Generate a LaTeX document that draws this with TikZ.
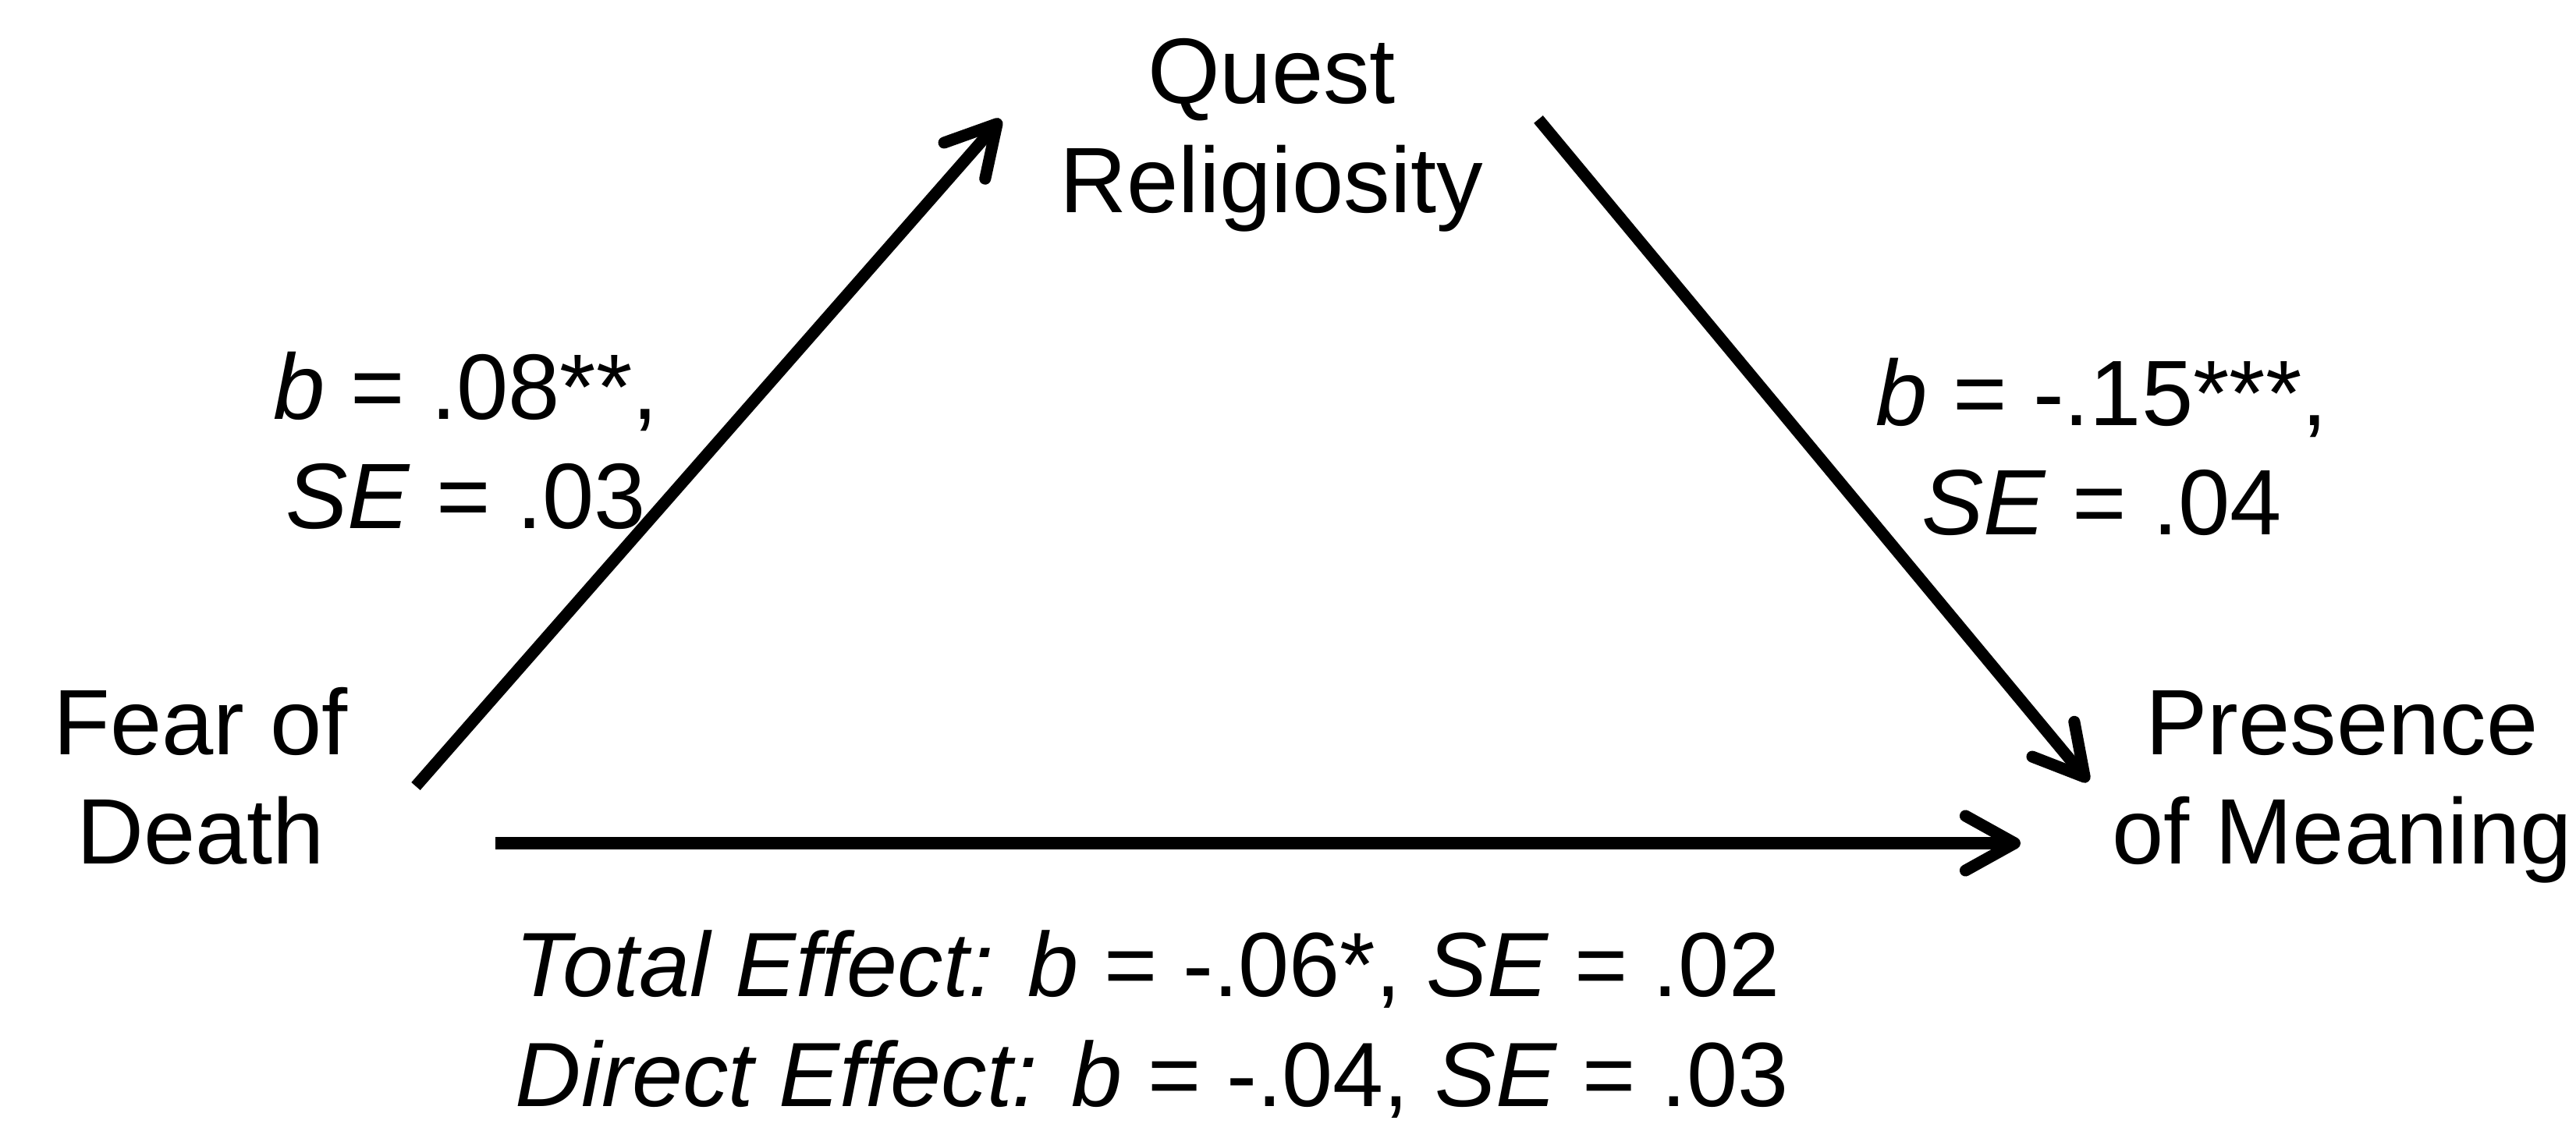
\documentclass[tikz,border=0pt]{standalone}
\usepackage{fontspec}
\setmainfont{Liberation Sans}
\usetikzlibrary{arrows.meta,positioning}

\begin{document}
\begin{tikzpicture}[
    var/.style={align=center, inner sep=0pt, anchor=base, font=\fontsize{33.9}{40.1}\selectfont},
    effect/.style={line width=4.3pt, -{Straight Barb[length=6.3mm,width=7mm,round]}}
  ]
    \useasboundingbox (0,0) rectangle (33.02,14.40);

    \node[var] (fear) at (2.57,3.32) {Fear of\\Death};
    \node[var, right=27.45cm of fear.base, anchor=base] (meaning) {Presence\\of Meaning};
    \node[var, above right=8.35cm and 13.73cm of fear.base, anchor=base] (quest) {Quest\\Religiosity};

    % path coefficients
    \node[var] (apath) at (5.97,7.62) {\textit{b} = .08**,\\\textit{SE} = .03};
    \node[var] (bpath) at (26.94,7.54) {\textit{b} = -.15***,\\\textit{SE} = .04};
    \node[var, align=left, anchor=base west, font=\fontsize{33.3}{40.1}\selectfont] (cpath) at (6.60,0.22) {\textit{Total Effect: b} = -.06*, \textit{SE} = .02\\\textit{Direct Effect: b} = -.04, \textit{SE} = .03};

    \draw[effect] ([shift={(2.76,1.00)}]fear.base) -- ([shift={(-3.47,1.20)}]quest.base);
    \draw[effect] ([shift={(3.42,1.20)}]quest.base) -- ([shift={(-3.25,1.06)}]meaning.base);
    \draw[effect] ([shift={(3.78,0.27)}]fear.base) -- ([shift={(-4.12,0.27)}]meaning.base);
\end{tikzpicture}
\end{document}
